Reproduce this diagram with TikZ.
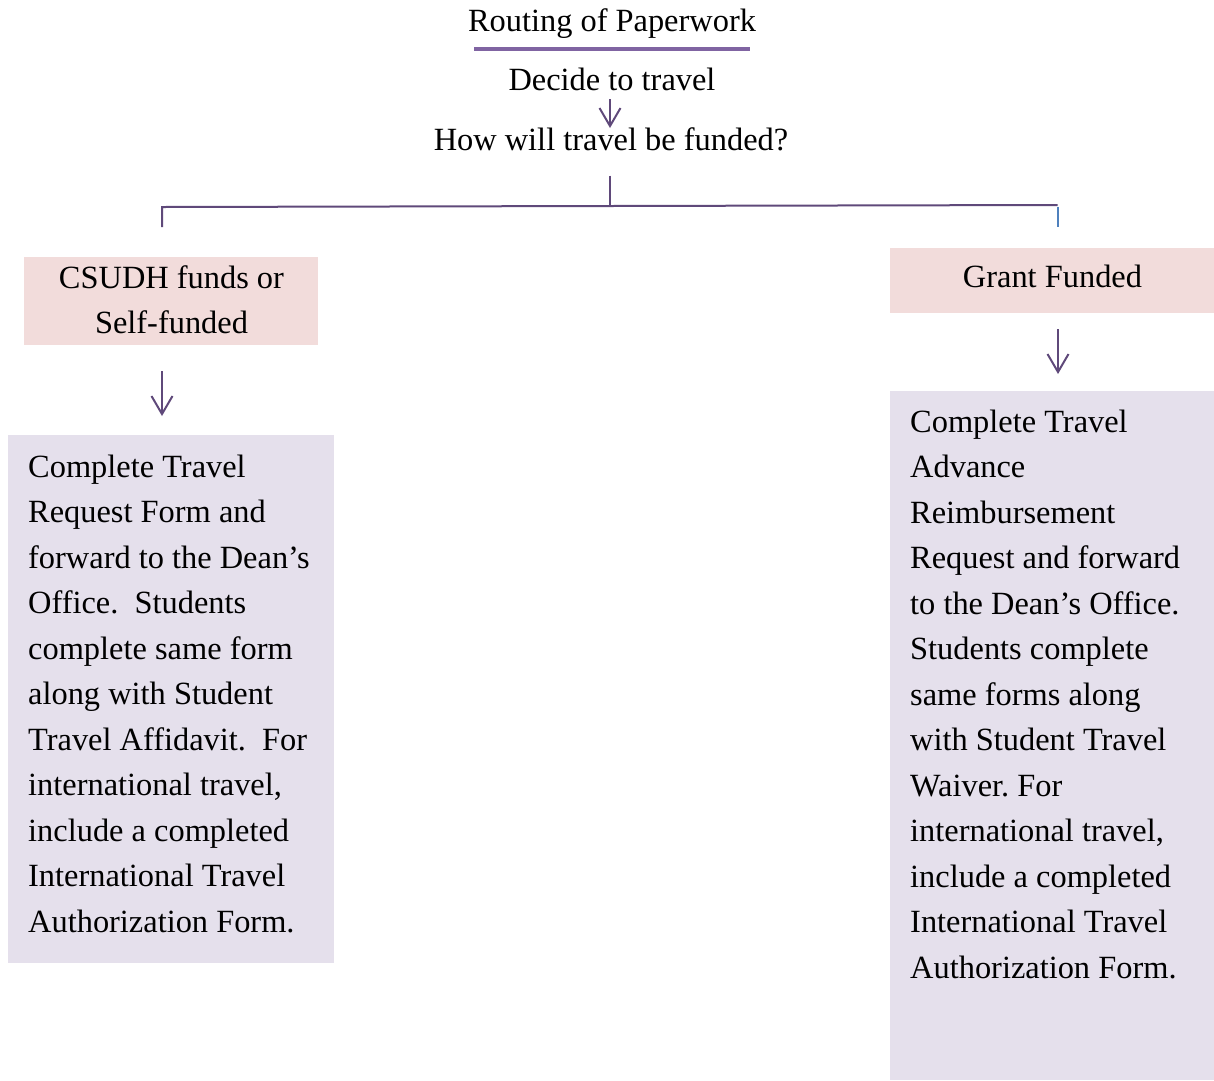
\documentclass[tikz,border=0pt]{standalone}
\usepackage{fontspec}
\setmainfont{Liberation Serif}
\usetikzlibrary{arrows.meta}
\definecolor{conn}{HTML}{5F497A}
\definecolor{uline}{HTML}{8064A2}
\definecolor{bluec}{HTML}{4F81BD}
\definecolor{pinkf}{HTML}{F2DCDB}
\definecolor{lavf}{HTML}{E5E0EC}
\frenchspacing
\tikzset{
  txt/.style={font=\fontsize{32.4}{45.5}\selectfont, inner sep=0pt},
  body/.style={txt, align=left, anchor=north west},
  pinkbox/.style={fill=pinkf, draw=none, anchor=north west, inner sep=0pt},
  lavbox/.style={fill=lavf, draw=none, anchor=north west, inner sep=0pt},
  conline/.style={draw=conn, line width=2pt},
  arr/.style={draw=conn, line width=2pt, -{Straight Barb[length=18pt,width=21pt,line width=2pt]}}
}
\newcommand{\topstrut}{\rule{0pt}{27pt}}
\begin{document}
\begin{tikzpicture}[x=1pt,y=-1pt]
\useasboundingbox (0,0) rectangle (1214,1080);
% title
\node[txt, anchor=base] (title) at (612,31.5) {Routing of Paperwork};
\coordinate (ulA) at (474,49);
\coordinate (ulB) at (750,49);
\draw[draw=uline, line width=4pt] (ulA) -- (ulB);
\node[txt, anchor=base] (decide) at (612,90) {Decide to travel};
\node[txt, anchor=base] (how) at (611,150) {How will travel be funded?};
\coordinate (a1s) at (610,99);
\coordinate (a1e) at (610,128);
\draw[arr] (a1s) -- (a1e);
% tree
\coordinate (qb) at (610,175.5);
\coordinate (split) at (610,206);
\coordinate (lt) at (162,207);
\coordinate (rt) at (1057.7,205);
\coordinate (ld) at (162,227);
\coordinate (rtd) at (1057.7,206.7);
\coordinate (rd) at (1057.7,226.7);
\draw[conline] (qb) -- (split);
\draw[conline] (ld) -- (lt) -- (rt);
\draw[draw=bluec, line width=2pt] (rtd) -- (rd);
% left branch
\node[pinkbox, minimum width=294pt, minimum height=88pt] (lp) at (24,256.7) {};
\node[txt, anchor=base] (lpt1) at (171.5,288.3) {CSUDH funds or};
\node[txt, anchor=base] (lpt2) at (171.5,333.6) {Self-funded};
\coordinate (la1) at (162,371);
\coordinate (la2) at (162,416);
\draw[arr] (la1) -- (la2);
\node[lavbox, minimum width=326pt, minimum height=528pt] (lb) at (8,435) {};
\node[body] (lbt) at (28,477-27) {\topstrut Complete Travel\\
Request Form and\\
forward to the Dean’s\\
Office.\ \ Students\\
complete same form\\
along with Student\\
Travel Affidavit.\ \ For\\
international travel,\\
include a completed\\
International Travel\\
Authorization Form.};
% right branch
\node[pinkbox, minimum width=324pt, minimum height=65.4pt] (rp) at (890,247.3) {};
\node[txt, anchor=base] (rpt) at (1052.5,287.7) {Grant Funded};
\coordinate (ra1) at (1058,329.3);
\coordinate (ra2) at (1058,374);
\draw[arr] (ra1) -- (ra2);
\node[lavbox, minimum width=324pt, minimum height=689pt] (rb) at (890,391) {};
\node[body] (rbt) at (910,432-27) {\topstrut Complete Travel\\
Advance\\
Reimbursement\\
Request and forward\\
to the Dean’s Office.\\
Students complete\\
same forms along\\
with Student Travel\\
Waiver. For\\
international travel,\\
include a completed\\
International Travel\\
Authorization Form.};
\end{tikzpicture}
\end{document}
